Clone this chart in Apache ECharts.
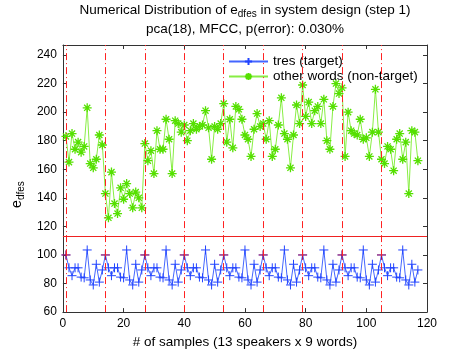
<!DOCTYPE html>
<html>
<head>
<meta charset="utf-8">
<script src="https://cdn.jsdelivr.net/npm/echarts@6/dist/echarts.min.js"></script>
<style>
  html, body { margin: 0; padding: 0; background: #fff; }
  #chart { width: 471px; height: 354px; }
</style>
</head>
<body>
<div id="chart"></div>
<script>
// values, sample index = position in array + 1
const targetValues = [
  100, 91, 85.5, 91, 91, 84.5, 84, 103.5, 82.5, 79, 93.5, 81, 89.5,
  100, 91, 85.5, 91, 91, 84.5, 84, 103.5, 82.5, 79, 93.5, 81, 89.5,
  100, 91, 85.5, 91, 91, 84.5, 84, 103.5, 82.5, 79, 93.5, 81, 89.5,
  100, 91, 85.5, 91, 91, 84.5, 84, 103.5, 82.5, 79, 93.5, 81, 89.5,
  100, 91, 85.5, 91, 91, 84.5, 84, 103.5, 82.5, 79, 93.5, 81, 89.5,
  100, 91, 85.5, 91, 91, 84.5, 84, 103.5, 82.5, 79, 93.5, 81, 89.5,
  100, 91, 85.5, 91, 91, 84.5, 84, 103.5, 82.5, 79, 93.5, 81, 89.5,
  100, 91, 85.5, 91, 91, 84.5, 84, 103.5, 82.5, 79, 93.5, 81, 89.5,
  100, 91, 85.5, 91, 91, 84.5, 84, 103.5, 82.5, 79, 93.5, 81, 89.5
];
const otherValues = [
  183, 165, 185, 174, 179, 172, 176, 203, 164, 161, 167, 184, 177,
  143, 126, 158, 136, 129, 147, 139, 150, 143, 133, 144, 140, 133,
  178, 166, 173, 157, 187, 174, 174, 195, 181, 157, 194, 192, 186,
  191, 180, 187, 192, 188, 190, 191, 201, 189, 167, 190, 188, 192,
  206, 179, 195, 175, 204, 202, 195, 184, 181, 169, 188, 199, 190,
  192, 181, 194, 169, 174, 191, 210, 185, 181, 161, 184, 205, 192,
  219, 197, 207, 192, 201, 204, 192, 209, 180, 174, 204, 220, 213,
  217, 169, 200, 187, 185, 184, 195, 181, 182, 169, 186, 216, 186,
  167, 164, 176, 174, 159, 181, 185, 167, 179, 143, 187, 186, 166
];
const speakerStarts = [1, 14, 27, 40, 53, 66, 79, 92, 105];
const speakerStartValues = [100, 100, 100, 100, 100, 100, 100, 100, 100];
const threshold = 113;
const xTicks = [0, 120, 20];   // min, max, step
const yTicks = [60, 247, 20];

const font = 'Liberation Sans, Arial, Helvetica, sans-serif';
const textSize = 13.5;
const plusPath = 'path://M5,0 L5,10 M0,5 L10,5';
const starPath = 'path://M5,0 L5,10 M0,5 L10,5 M1.6,1.6 L8.4,8.4 M8.4,1.6 L1.6,8.4';

const targetData = targetValues.map((v, i) => [i + 1, v]);
const otherData = otherValues.map((v, i) => [i + 1, v]);
const startData = speakerStarts.map((x, i) => [x, speakerStartValues[i]]);

const axisCommon = {
  type: 'value',
  splitLine: { show: false },
  axisLine: { show: true, onZero: false, lineStyle: { color: '#333', width: 1 } },
  axisTick: { show: true, inside: true, length: 4, lineStyle: { color: '#333' } }
};

const chart = echarts.init(document.getElementById('chart'), null, { renderer: 'canvas' });
chart.setOption({
  animation: false,
  textStyle: { fontFamily: font },
  title: {
    left: 245,
    top: 2,
    padding: 0,
    textAlign: 'center',
    itemGap: 2,
    text: '{a|Numerical Distribution of e}{s|dfes}{a| in system design (step 1)}',
    subtext: 'pca(18), MFCC, p(error): 0.030%',
    textStyle: {
      fontWeight: 'normal',
      rich: {
        a: { fontSize: textSize, fontFamily: font, fontWeight: 'normal', color: '#000', lineHeight: 17 },
        s: { fontSize: 10, fontFamily: font, fontWeight: 'normal', color: '#000', lineHeight: 10, padding: [7, 0, 0, 0] }
      }
    },
    subtextStyle: { fontSize: textSize, fontFamily: font, color: '#000', lineHeight: 16 }
  },
  legend: {
    orient: 'vertical',
    left: 228,
    top: 54,
    padding: 0,
    itemWidth: 39,
    itemHeight: 9,
    itemGap: 0,
    data: ['tres (target)', 'other words (non-target)'],
    textStyle: { fontSize: textSize, fontFamily: font, color: '#000', lineHeight: 15 }
  },
  grid: { left: 62, right: 44, top: 45, bottom: 40 },
  xAxis: [
    Object.assign({}, axisCommon, {
      min: xTicks[0], max: xTicks[1], interval: xTicks[2],
      name: '# of samples (13 speakers x 9 words)',
      nameLocation: 'middle',
      nameGap: 20,
      nameTextStyle: { fontSize: textSize, fontFamily: font, color: '#000' },
      axisLabel: { fontSize: 12, fontFamily: font, color: '#000', margin: 6 }
    }),
    Object.assign({}, axisCommon, {
      position: 'top',
      min: xTicks[0], max: xTicks[1], interval: xTicks[2],
      axisLabel: { show: false }
    })
  ],
  yAxis: [
    Object.assign({}, axisCommon, {
      min: yTicks[0], max: yTicks[1], interval: yTicks[2],
      name: '{a|e}{s|dfes}',
      nameLocation: 'middle',
      nameRotate: 90,
      nameGap: 24,
      nameTextStyle: {
        padding: [0, 32, 0, 0],
        rich: {
          a: { fontSize: 14, fontFamily: font, color: '#000', lineHeight: 17 },
          s: { fontSize: 10, fontFamily: font, color: '#000', lineHeight: 10, padding: [8, 0, 0, 0] }
        }
      },
      axisLabel: { fontSize: 12, fontFamily: font, color: '#000', margin: 6, showMaxLabel: false }
    }),
    Object.assign({}, axisCommon, {
      position: 'right',
      min: yTicks[0], max: yTicks[1], interval: yTicks[2],
      axisLabel: { show: false }
    })
  ],
  series: [
    {
      name: 'other words (non-target)',
      type: 'line',
      data: otherData,
      symbol: starPath,
      symbolSize: 9,
      showSymbol: true,
      lineStyle: { color: '#88ee44', width: 1 },
      itemStyle: { color: '#55e000', borderColor: '#55e000', borderWidth: 1.3 },
      z: 3
    },
    {
      name: 'tres (target)',
      type: 'line',
      data: targetData,
      symbol: plusPath,
      symbolSize: 9,
      showSymbol: true,
      lineStyle: { color: '#4466ff', width: 1 },
      itemStyle: { color: '#2244ff', borderColor: '#2244ff', borderWidth: 1 },
      z: 3
    },
    {
      name: 'speaker start',
      type: 'scatter',
      data: startData,
      symbol: plusPath,
      symbolSize: 9,
      itemStyle: { color: '#cc0022', borderColor: '#cc0022', borderWidth: 1 },
      z: 4,
      markLine: {
        silent: true,
        symbol: 'none',
        label: { show: false },
        animation: false,
        lineStyle: { color: '#ff2222', width: 1, type: [7, 3, 1, 3] },
        data: speakerStarts.map(x => ({ xAxis: x }))
          .concat([{ yAxis: threshold, lineStyle: { type: 'solid', color: '#ee2222' } }])
      }
    }
  ]
});
</script>
</body>
</html>
